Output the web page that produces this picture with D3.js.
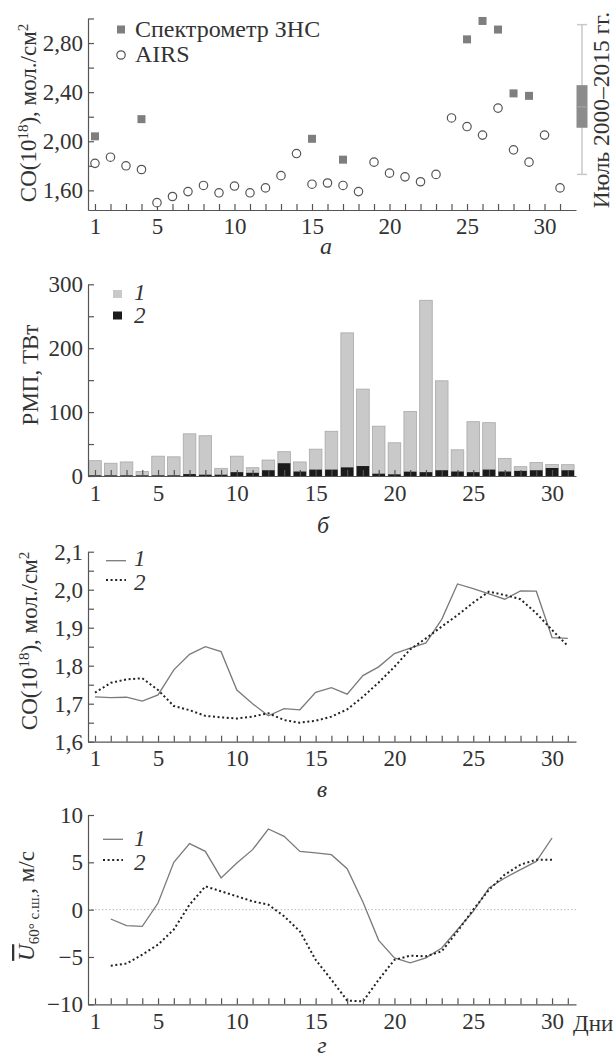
<!DOCTYPE html>
<html lang="ru">
<head>
<meta charset="utf-8">
<script src="https://cdn.jsdelivr.net/npm/d3@7"></script>
<style>
  body { margin: 0; background: #fff; }
  svg { display: block; }
  svg text { font-family: "Liberation Serif", "Times New Roman", Times, "DejaVu Serif", serif; fill: #333; }
  .axis path, .axis line { stroke: #555; stroke-width: 1.2; }
  .axis text { font-size: 23px; fill: #333; }
</style>
</head>
<body>
<script>
// days of July
const days = d3.range(1, 32)
const labelDays = [1, 5, 10, 15, 20, 25, 30]

// panel a: CO total column
const airsCO = [1.82, 1.87, 1.80, 1.77, 1.50, 1.55, 1.59, 1.64, 1.58, 1.635, 1.58, 1.62, 1.72, 1.90, 1.65,
  1.66, 1.64, 1.59, 1.83, 1.74, 1.71, 1.67, 1.73, 2.19, 2.12, 2.05, 2.27, 1.93, 1.83, 2.05, 1.62]
const spectroDays = [1, 4, 15, 17, 25, 26, 27, 28, 29]
const spectroCO = [2.04, 2.18, 2.02, 1.85, 2.83, 2.98, 2.91, 2.39, 2.37]
// July 2000-2015: whisker low, q1, median, q3, whisker high
const julyBox = [1.73, 2.11, 2.28, 2.457, 2.95]

// panel b: fire radiative power, TW
const frp1 = [24, 20, 22, 7, 31, 30, 66, 63, 12, 31, 13, 25, 38, 22, 42, 70, 224, 136, 78, 52, 101, 275,
  149, 41, 85, 83.5, 27.6, 14.6, 21, 18, 17.7]
const frp2 = [1, 1, 1, 1, 1, 1, 3, 2, 2, 6, 5, 9, 20, 7, 10, 10, 13.5, 15.6, 3.6, 2.6, 6.8, 6, 9, 7, 6, 10,
  7, 8, 9, 12.5, 9]

// panel c: CO, 2010 vs mean
const co1 = [1.718, 1.716, 1.717, 1.707, 1.723, 1.789, 1.83, 1.85, 1.837, 1.736, 1.70, 1.668, 1.687, 1.684,
  1.73, 1.742, 1.725, 1.774, 1.797, 1.832, 1.846, 1.86, 1.922, 2.015, 2.003, 1.989, 1.975, 1.997, 1.996,
  1.874, 1.872]
const co2 = [1.729, 1.755, 1.764, 1.767, 1.736, 1.694, 1.683, 1.668, 1.664, 1.661, 1.666, 1.675, 1.657,
  1.65, 1.655, 1.666, 1.685, 1.718, 1.756, 1.797, 1.843, 1.872, 1.903, 1.933, 1.966, 1.995, 1.986, 1.975,
  1.938, 1.894, 1.852]

// panel d: zonal wind at 60N, days 2..30
const windDays = d3.range(2, 31)
const u1 = [-0.99, -1.69, -1.76, 0.7, 5.0, 6.97, 6.16, 3.35, 4.93, 6.34, 8.52, 7.75, 6.16, 6.0, 5.81, 4.33,
  0.8, -3.24, -5.1, -5.63, -5.1, -4.05, -2.1, -0.18, 2.29, 3.35, 4.23, 5.1, 7.57]
const u2 = [-5.92, -5.7, -4.75, -3.7, -2.1, 0.53, 2.46, 1.94, 1.41, 0.88, 0.53, -0.7, -2.29, -5.3, -7.4,
  -9.6, -9.7, -7.4, -5.3, -4.86, -4.93, -4.4, -2.29, 0, 2.1, 3.7, 4.75, 5.28, 5.28]

const W = 615, H = 1059
const svg = d3.select("body").append("svg").attr("width", W).attr("height", H)

const comma = f => d => d3.format(f)(d).replace(".", ",")

function xAxis(x, yPos, pad) {
  svg.append("g").attr("class", "axis")
    .attr("transform", `translate(0,${yPos})`)
    .call(d3.axisBottom(x).tickValues(days).tickSizeInner(-6).tickSizeOuter(0).tickPadding(pad)
      .tickFormat(d => labelDays.includes(d) ? d : ""))
    .attr("font-family", null).attr("font-size", null)
}
function yAxis(y, ticks, fmt) {
  svg.append("g").attr("class", "axis")
    .attr("transform", "translate(88,0)")
    .call(d3.axisLeft(y).tickValues(ticks).tickSizeInner(-6).tickSizeOuter(0).tickPadding(5).tickFormat(fmt))
    .attr("font-family", null).attr("font-size", null)
}
function panelLabel(txt, x, yb) {
  svg.append("text").attr("x", x).attr("y", yb).attr("text-anchor", "middle")
    .style("font-size", "24px").style("font-style", "italic").text(txt)
}
function legendNum(txt, yb) {
  svg.append("text").attr("x", 134).attr("y", yb)
    .style("font-size", "23px").style("font-style", "italic").text(txt)
}
function yTitle(x, y, build) {
  const t = svg.append("text").attr("transform", `translate(${x},${y}) rotate(-90)`)
    .attr("text-anchor", "middle").style("font-size", "23px")
  build(t)
}
function coTitle(t) {
  t.append("tspan").text("CO(10")
  t.append("tspan").attr("dy", -8).style("font-size", "15px").text("18")
  t.append("tspan").attr("dy", 8).text("), мол./см")
  t.append("tspan").attr("dy", -8).style("font-size", "15px").text("2")
}

// ---------- panel a ----------
const xa = d3.scaleLinear().domain([0.55, 32.03]).range([88, 576])
const ya = d3.scaleLinear().domain([1.44, 3.0]).range([210, 18.5])
xAxis(xa, 210, 8)
yAxis(ya, [1.6, 1.8, 2.0, 2.2, 2.4, 2.6, 2.8, 3.0],
  d => [1.6, 2.0, 2.4, 2.8].some(v => Math.abs(v - d) < 1e-6) ? comma(".2f")(d) : "")

svg.append("g").selectAll("circle").data(airsCO).join("circle")
  .attr("cx", (d, i) => xa(days[i])).attr("cy", d => ya(d)).attr("r", 4.2)
  .attr("fill", "#fff").attr("stroke", "#555").attr("stroke-width", 1.2)
svg.append("g").selectAll("rect").data(spectroCO).join("rect")
  .attr("x", (d, i) => xa(spectroDays[i]) - 4).attr("y", d => ya(d) - 4)
  .attr("width", 8).attr("height", 8).attr("fill", "#7e7e7e")

// box plot July 2000-2015
const bx = 582
const box = svg.append("g")
box.append("line").attr("x1", bx).attr("x2", bx).attr("y1", ya(julyBox[0])).attr("y2", ya(julyBox[4]))
  .attr("stroke", "#c8c8c8").attr("stroke-width", 1.5)
;[julyBox[0], julyBox[4]].forEach(v => box.append("line").attr("x1", bx - 5).attr("x2", bx + 5)
  .attr("y1", ya(v)).attr("y2", ya(v)).attr("stroke", "#c8c8c8").attr("stroke-width", 1.5))
box.append("rect").attr("x", bx - 5.5).attr("width", 11).attr("y", ya(julyBox[3]))
  .attr("height", ya(julyBox[1]) - ya(julyBox[3])).attr("fill", "#8c8c8c")
box.append("line").attr("x1", bx - 5.5).attr("x2", bx + 5.5).attr("y1", ya(julyBox[2])).attr("y2", ya(julyBox[2]))
  .attr("stroke", "#a8a8a8").attr("stroke-width", 1)
svg.append("text").attr("transform", "translate(609,110) rotate(-90)").attr("text-anchor", "middle")
  .style("font-size", "23.5px").text("Июль 2000–2015 гг.")

// legend a
svg.append("rect").attr("x", 117).attr("y", 25.5).attr("width", 8).attr("height", 8).attr("fill", "#7e7e7e")
svg.append("text").attr("x", 135).attr("y", 37).style("font-size", "24px").text("Спектрометр ЗНС")
svg.append("circle").attr("cx", 121).attr("cy", 55).attr("r", 4.2).attr("fill", "#fff")
  .attr("stroke", "#555").attr("stroke-width", 1.2)
svg.append("text").attr("x", 135).attr("y", 62).style("font-size", "24px").text("AIRS")

yTitle(36, 113, coTitle)
panelLabel("а", 326, 254)

// ---------- panel b ----------
const xb = d3.scaleLinear().domain([0.556, 31.52]).range([88, 576])
const yb = d3.scaleLinear().domain([0, 300]).range([476, 284.3])
const bw = 12.6
svg.append("g").selectAll("rect").data(frp1).join("rect")
  .attr("x", (d, i) => xb(days[i]) - bw / 2).attr("y", d => yb(d))
  .attr("width", bw).attr("height", d => yb(0) - yb(d))
  .attr("fill", "#c9c9c9").attr("stroke", "#a9a9a9").attr("stroke-width", 0.8)
svg.append("g").selectAll("rect").data(frp2).join("rect")
  .attr("x", (d, i) => xb(days[i]) - bw / 2).attr("y", d => yb(d))
  .attr("width", bw).attr("height", d => yb(0) - yb(d)).attr("fill", "#1b1b1b")
xAxis(xb, 476, 8.5)
yAxis(yb, d3.range(0, 301, 50), d => d % 100 === 0 ? d : "")

svg.append("rect").attr("x", 113).attr("y", 290).attr("width", 9).attr("height", 8).attr("fill", "#c9c9c9")
legendNum("1", 300)
svg.append("rect").attr("x", 113).attr("y", 311.5).attr("width", 9).attr("height", 8).attr("fill", "#1b1b1b")
legendNum("2", 323)

yTitle(38, 375, t => t.text("РМП, ТВт"))
panelLabel("б", 323, 533)

// ---------- panel c ----------
const yc = d3.scaleLinear().domain([1.6, 2.1]).range([741.7, 551.7])
const lineC = d3.line().x((d, i) => xb(days[i])).y(d => yc(d))
svg.append("path").attr("d", lineC(co1)).attr("fill", "none").attr("stroke", "#7a7a7a").attr("stroke-width", 1.3)
svg.append("path").attr("d", lineC(co2)).attr("fill", "none").attr("stroke", "#222")
  .attr("stroke-width", 2).attr("stroke-dasharray", "2,2.6")
xAxis(xb, 741.7, 8)
const cTicks = d3.range(0, 11).map(i => +(1.6 + i * 0.05).toFixed(2))
yAxis(yc, cTicks, (d, i) => i % 2 === 0 ? comma(".1f")(d) : "")

svg.append("line").attr("x1", 106).attr("x2", 126).attr("y1", 560.7).attr("y2", 560.7)
  .attr("stroke", "#7a7a7a").attr("stroke-width", 1.3)
legendNum("1", 566)
svg.append("line").attr("x1", 106).attr("x2", 126).attr("y1", 580).attr("y2", 580)
  .attr("stroke", "#222").attr("stroke-width", 2).attr("stroke-dasharray", "2,2.6")
legendNum("2", 590)

yTitle(36.7, 641, coTitle)
panelLabel("в", 322, 797)

// ---------- panel d ----------
const yd = d3.scaleLinear().domain([-10, 10]).range([1004.3, 815])
svg.append("line").attr("x1", 88).attr("x2", 576).attr("y1", yd(0)).attr("y2", yd(0))
  .attr("stroke", "#bbb").attr("stroke-width", 1).attr("stroke-dasharray", "1.5,2")
const lineD = d3.line().x((d, i) => xb(windDays[i])).y(d => yd(d))
svg.append("path").attr("d", lineD(u1)).attr("fill", "none").attr("stroke", "#7a7a7a").attr("stroke-width", 1.3)
svg.append("path").attr("d", lineD(u2)).attr("fill", "none").attr("stroke", "#222")
  .attr("stroke-width", 2).attr("stroke-dasharray", "2,2.6")
xAxis(xb, 1004.3, 8)
yAxis(yd, [-10, -5, 0, 5, 10], d => d3.format("d")(d))
svg.append("text").attr("x", 573).attr("y", 1031).style("font-size", "23px").text("Дни")

svg.append("line").attr("x1", 103).attr("x2", 123).attr("y1", 839.3).attr("y2", 839.3)
  .attr("stroke", "#7a7a7a").attr("stroke-width", 1.3)
legendNum("1", 846)
svg.append("line").attr("x1", 103).attr("x2", 123).attr("y1", 860).attr("y2", 860)
  .attr("stroke", "#222").attr("stroke-width", 2).attr("stroke-dasharray", "2,2.6")
legendNum("2", 870)

yTitle(34, 906, t => {
  t.append("tspan").style("font-style", "italic").style("text-decoration", "overline").text("U")
  t.append("tspan").attr("dy", 5).style("font-size", "15px").text("60° с.ш.")
  t.append("tspan").attr("dy", -5).text(", м/с")
})
panelLabel("г", 322, 1053)
</script>
</body>
</html>
